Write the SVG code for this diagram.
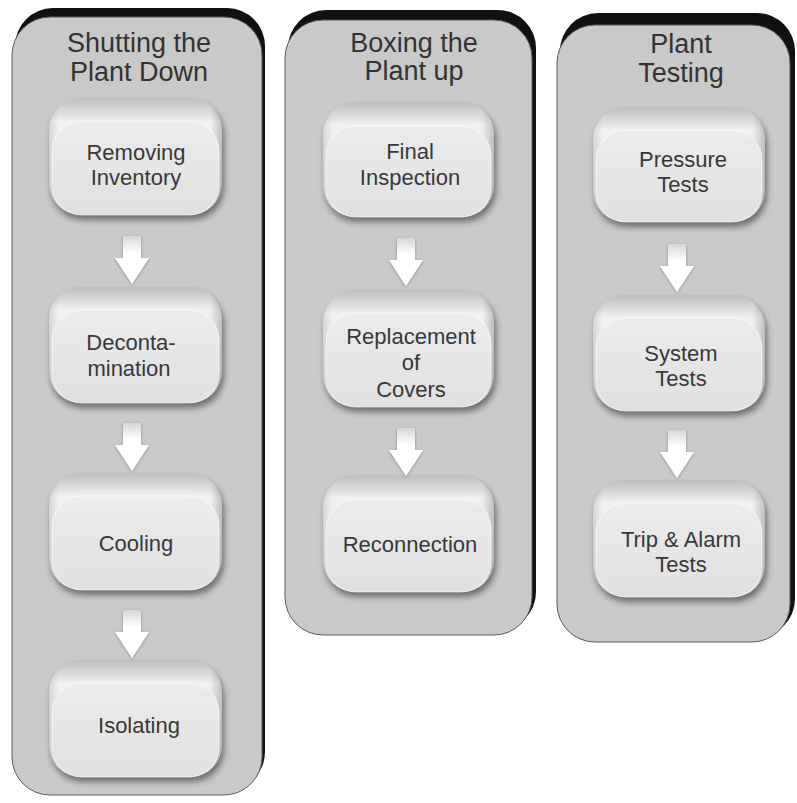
<svg xmlns="http://www.w3.org/2000/svg" width="797" height="803" viewBox="0 0 797 803">
<defs>
<linearGradient id="gBody" x1="0" y1="0" x2="0" y2="1">
<stop offset="0" stop-color="#bdbdbd"/>
<stop offset="0.1" stop-color="#d6d6d6"/>
<stop offset="0.2" stop-color="#f1f1f1"/>
<stop offset="1" stop-color="#dcdcdc"/>
</linearGradient>
<linearGradient id="gSide" x1="0" y1="0" x2="1" y2="0">
<stop offset="0" stop-color="#000" stop-opacity="0.10"/>
<stop offset="0.06" stop-color="#000" stop-opacity="0"/>
<stop offset="0.93" stop-color="#000" stop-opacity="0"/>
<stop offset="1" stop-color="#000" stop-opacity="0.2"/>
</linearGradient>
<linearGradient id="gFace" x1="0" y1="0" x2="0" y2="1">
<stop offset="0" stop-color="#ececec"/>
<stop offset="1" stop-color="#e0e0e0"/>
</linearGradient>
<linearGradient id="gArrow" x1="0" y1="0" x2="0" y2="1">
<stop offset="0" stop-color="#d6d6d6"/>
<stop offset="0.35" stop-color="#ffffff"/>
<stop offset="1" stop-color="#ffffff"/>
</linearGradient>
<filter id="fShadow" x="-20%" y="-20%" width="140%" height="150%">
<feGaussianBlur stdDeviation="3"/>
</filter>
<filter id="fArrow" x="-40%" y="-30%" width="180%" height="160%">
<feDropShadow dx="0" dy="1" stdDeviation="1.5" flood-color="#000" flood-opacity="0.3"/>
</filter>
</defs>
<style>
.cshadow{fill:#111;}
.cbox{fill:#c9c9c9;stroke:#5a5a5a;stroke-width:1;}
.title{font-family:"Liberation Sans",Arial,sans-serif;font-size:27px;fill:#333;text-anchor:middle;}
.nsh{fill:#000;opacity:0.45;filter:url(#fShadow);}
.nbody{fill:url(#gBody);}
.nside{fill:url(#gSide);}
.nface{fill:url(#gFace);stroke:#ffffff;stroke-opacity:0.6;stroke-width:1;}
.lbl{font-family:"Liberation Sans",Arial,sans-serif;font-size:22px;fill:#383838;text-anchor:middle;}
.arrow{fill:url(#gArrow);filter:url(#fArrow);}
</style>

<g id="col-shutting">
<rect class="cshadow" x="15" y="8" width="250" height="782" rx="38"/>
<rect class="cbox" x="12" y="17" width="250" height="778" rx="38"/>
<text class="title" x="139" y="52">Shutting the</text>
<text class="title" x="139" y="81">Plant Down</text>
</g>
<g id="col-boxing">
<rect class="cshadow" x="288" y="10" width="248" height="620" rx="38"/>
<rect class="cbox" x="285" y="20" width="247" height="615" rx="38"/>
<text class="title" x="414" y="52">Boxing the</text>
<text class="title" x="414" y="80">Plant up</text>
</g>
<g id="col-testing">
<rect class="cshadow" x="560" y="13" width="235" height="624" rx="38"/>
<rect class="cbox" x="557" y="25" width="233" height="617" rx="38"/>
<text class="title" x="681" y="53">Plant</text>
<text class="title" x="681" y="82">Testing</text>
</g>

<g id="n-removing">
<rect class="nsh" x="51" y="103" width="173" height="117" rx="32"/>
<rect class="nbody" x="49" y="98" width="173" height="117" rx="32"/>
<rect class="nside" x="49" y="98" width="173" height="117" rx="32"/>
<rect class="nface" x="52" y="121" width="167" height="94" rx="30"/>
<text class="lbl" x="136" y="160">Removing</text>
<text class="lbl" x="136" y="185">Inventory</text>
</g>
<g id="n-decontamination">
<rect class="nsh" x="51" y="292" width="173" height="116" rx="32"/>
<rect class="nbody" x="49" y="287" width="173" height="116" rx="32"/>
<rect class="nside" x="49" y="287" width="173" height="116" rx="32"/>
<rect class="nface" x="52" y="310" width="167" height="93" rx="30"/>
<text class="lbl" x="131" y="350">Deconta-</text>
<text class="lbl" x="129" y="376">mination</text>
</g>
<g id="n-cooling">
<rect class="nsh" x="51" y="478" width="173" height="117" rx="32"/>
<rect class="nbody" x="49" y="473" width="173" height="117" rx="32"/>
<rect class="nside" x="49" y="473" width="173" height="117" rx="32"/>
<rect class="nface" x="52" y="496" width="167" height="94" rx="30"/>
<text class="lbl" x="136" y="551">Cooling</text>
</g>
<g id="n-isolating">
<rect class="nsh" x="51" y="665" width="173" height="117" rx="32"/>
<rect class="nbody" x="49" y="660" width="173" height="117" rx="32"/>
<rect class="nside" x="49" y="660" width="173" height="117" rx="32"/>
<rect class="nface" x="52" y="683" width="167" height="94" rx="30"/>
<text class="lbl" x="139" y="733">Isolating</text>
</g>

<g id="n-final">
<rect class="nsh" x="325" y="107" width="171" height="115" rx="32"/>
<rect class="nbody" x="323" y="102" width="171" height="115" rx="32"/>
<rect class="nside" x="323" y="102" width="171" height="115" rx="32"/>
<rect class="nface" x="326" y="126" width="165" height="91" rx="30"/>
<text class="lbl" x="410" y="159">Final</text>
<text class="lbl" x="410" y="185">Inspection</text>
</g>
<g id="n-replacement">
<rect class="nsh" x="325" y="295" width="171" height="117" rx="32"/>
<rect class="nbody" x="323" y="290" width="171" height="117" rx="32"/>
<rect class="nside" x="323" y="290" width="171" height="117" rx="32"/>
<rect class="nface" x="326" y="313" width="165" height="94" rx="30"/>
<text class="lbl" x="411" y="344">Replacement</text>
<text class="lbl" x="411" y="370">of</text>
<text class="lbl" x="411" y="397">Covers</text>
</g>
<g id="n-reconnection">
<rect class="nsh" x="325" y="480" width="171" height="117" rx="32"/>
<rect class="nbody" x="323" y="475" width="171" height="117" rx="32"/>
<rect class="nside" x="323" y="475" width="171" height="117" rx="32"/>
<rect class="nface" x="326" y="499" width="165" height="93" rx="30"/>
<text class="lbl" x="410" y="552">Reconnection</text>
</g>

<g id="n-pressure">
<rect class="nsh" x="595" y="112" width="172" height="115" rx="32"/>
<rect class="nbody" x="593" y="107" width="172" height="115" rx="32"/>
<rect class="nside" x="593" y="107" width="172" height="115" rx="32"/>
<rect class="nface" x="596" y="130" width="166" height="92" rx="30"/>
<text class="lbl" x="683" y="167">Pressure</text>
<text class="lbl" x="683" y="192">Tests</text>
</g>
<g id="n-system">
<rect class="nsh" x="595" y="300" width="172" height="116" rx="32"/>
<rect class="nbody" x="593" y="295" width="172" height="116" rx="32"/>
<rect class="nside" x="593" y="295" width="172" height="116" rx="32"/>
<rect class="nface" x="596" y="318" width="166" height="93" rx="30"/>
<text class="lbl" x="681" y="361">System</text>
<text class="lbl" x="681" y="386">Tests</text>
</g>
<g id="n-trip">
<rect class="nsh" x="595" y="485" width="172" height="117" rx="32"/>
<rect class="nbody" x="593" y="480" width="172" height="117" rx="32"/>
<rect class="nside" x="593" y="480" width="172" height="117" rx="32"/>
<rect class="nface" x="596" y="503" width="166" height="94" rx="30"/>
<text class="lbl" x="681" y="547">Trip &amp; Alarm</text>
<text class="lbl" x="681" y="572">Tests</text>
</g>

<g id="connectors">
<path class="arrow" d="M123 236H141V258H149L132 284L115 258H123Z"/>
<path class="arrow" d="M123 423H141V445H149L132 471L115 445H123Z"/>
<path class="arrow" d="M123 610H141V632H149L132 658L115 632H123Z"/>
<path class="arrow" d="M397 238H415V260H423L406 286L389 260H397Z"/>
<path class="arrow" d="M397 428H415V450H423L406 476L389 450H397Z"/>
<path class="arrow" d="M668 244H686V266H694L677 292L660 266H668Z"/>
<path class="arrow" d="M668 430H686V452H694L677 478L660 452H668Z"/>
</g>
</svg>
